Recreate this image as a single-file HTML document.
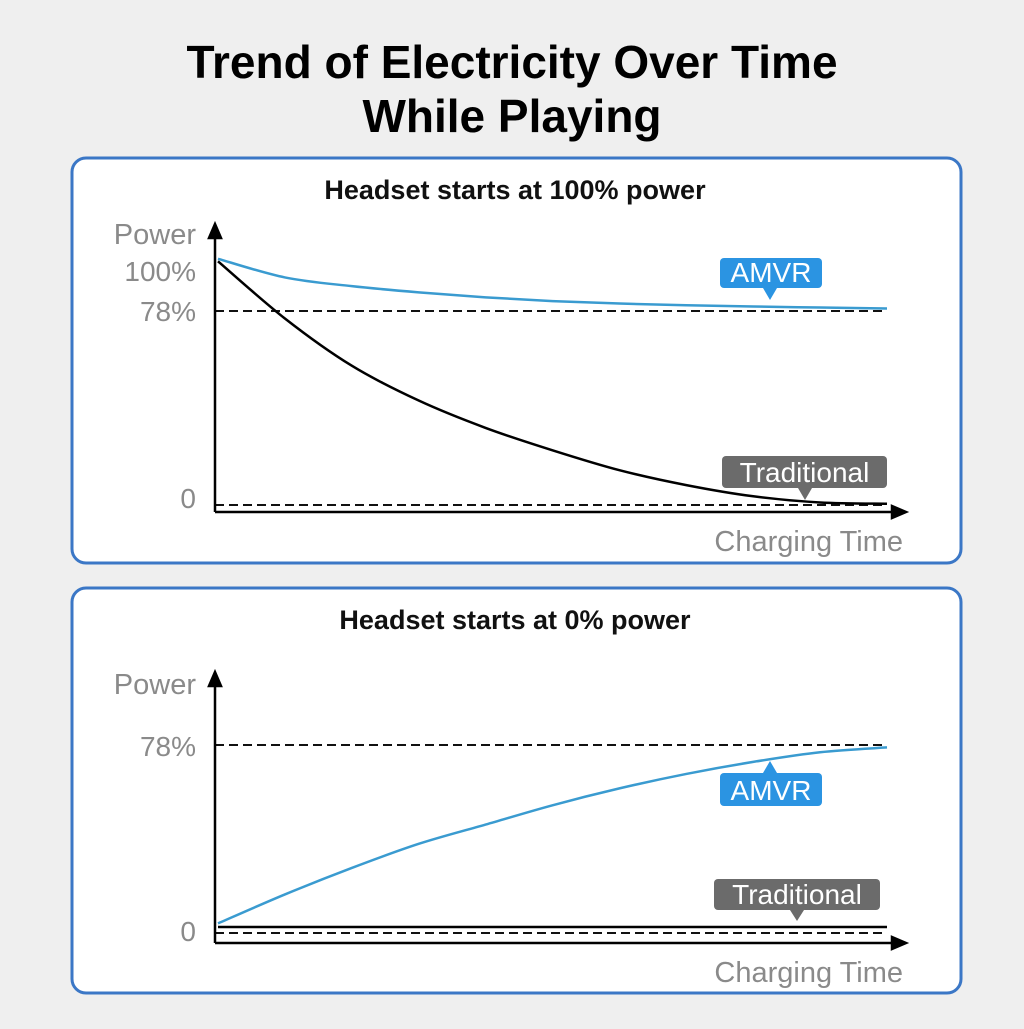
<!DOCTYPE html>
<html><head><meta charset="utf-8"><style>
body{margin:0;background:#efefef;width:1024px;height:1024px;overflow:hidden;font-family:"Liberation Sans",sans-serif}
</style></head><body>
<svg width="1024" height="1024">
<text x="512" y="78" text-anchor="middle" font-size="46" font-weight="bold" fill="#000">Trend of Electricity Over Time</text>
<text x="512" y="132" text-anchor="middle" font-size="46" font-weight="bold" fill="#000">While Playing</text>
<rect x="72" y="158" width="889" height="405" rx="14" fill="#fff" stroke="#3b77c6" stroke-width="3"/>
<rect x="72" y="588" width="889" height="405" rx="14" fill="#fff" stroke="#3b77c6" stroke-width="3"/>
<g id="g1"></g>
<g id="g2"></g>
</svg>
<script>
const times=[0,1,2,3,4,5,6,7,8,9,10];
const amvr1=[99,91.5,88,85.5,83.5,82,81,80.3,79.8,79.4,79];
const trad1=[98,75,56,42,31,22,14,8,3.5,1,0.5];
const amvr2=[4,16,27,37,45,53,60,66,71,75,77];
const trad2=[2.5,2.5,2.5,2.5,2.5,2.5,2.5,2.5,2.5,2.5,2.5];
const NS="http://www.w3.org/2000/svg";
function mk(p,t,a){const e=document.createElementNS(NS,t);for(const k in a)e.setAttribute(k,a[k]);p.appendChild(e);return e;}
function path(xs,ys,X,Y){let pts=xs.map((t,i)=>[X(t),Y(ys[i])]);let d="M"+pts[0];for(let i=1;i<pts.length;i++){const p0=pts[i-2]||pts[i-1],p1=pts[i-1],p2=pts[i],p3=pts[i+1]||p2;d+=" C"+(p1[0]+(p2[0]-p0[0])/6)+","+(p1[1]+(p2[1]-p0[1])/6)+" "+(p2[0]-(p3[0]-p1[0])/6)+","+(p2[1]-(p3[1]-p1[1])/6)+" "+p2;}return d;}
function chart(g,o){
 const X=t=>218+t*66.9, Y=v=>o.y0-v*o.k;
 let e;
 e=mk(g,"text",{x:515,y:o.top+41,"text-anchor":"middle","font-size":27,"font-weight":"bold",fill:"#111"});e.textContent=o.sub;
 
 
 e=mk(g,"text",{x:196,y:o.powerY,"text-anchor":"end","font-size":29,fill:"#8a8a8a"});e.textContent="Power";
 
 
 e=mk(g,"text",{x:903,y:o.ax+39,"text-anchor":"end","font-size":29,fill:"#8a8a8a"});e.textContent="Charging Time";
 
 
 o.ticks.forEach((v,i)=>{e=mk(g,"text",{x:196,y:o.tickY[i],"text-anchor":"end","font-size":28,fill:"#8a8a8a"});e.textContent=v===0?"0":v+"%";
  
  });
 o.dash.forEach(v=>{e=mk(g,"line",{x1:215,x2:887,y1:Y(v),y2:Y(v),stroke:"#111","stroke-width":2,"stroke-dasharray":"9,5"});
  
  });
 e=mk(g,"path",{d:`M215,${o.ax} V${o.ytop+10} M209,${o.ytop+14} L215,${o.ytop} L221,${o.ytop+14}Z M215,${o.ax} H897 M892,${o.ax-6} L906,${o.ax} L892,${o.ax+6}Z`,stroke:"#000","stroke-width":2.5,fill:"#000"});
 
 
 e=mk(g,"path",{d:path(times,o.trad,X,Y),fill:"none",stroke:"#000","stroke-width":2.5});
 
 
 e=mk(g,"path",{d:path(times,o.amvr,X,Y),fill:"none",stroke:"#3a9bd0","stroke-width":2.5});
 
 
 o.labels.forEach(L=>{
  e=mk(g,"rect",{x:L.x,y:L.y,width:L.w,height:L.h,rx:4,fill:L.c});
  
  
  e=mk(g,"path",{d:`M${L.px-7},${L.dir>0?L.y+L.h:L.y} L${L.px},${L.tip} L${L.px+7},${L.dir>0?L.y+L.h:L.y}Z`,fill:L.c});
  
  
  e=mk(g,"text",{x:L.x+L.w/2,y:L.y+L.h-6,"text-anchor":"middle","font-size":28,fill:"#fff"});e.textContent=L.t;
  
  
 });
}
chart(document.getElementById('g1'),{top:158,y0:505,k:2.487,ax:512,ytop:224,powerY:244,tickY:[281,321,508],sub:"Headset starts at 100% power",ticks:[100,78,0],dash:[78,0],amvr:amvr1,trad:trad1,
 labels:[{x:720,y:258,w:102,h:30,px:770,tip:300,dir:1,c:"#2b94e2",t:"AMVR"},{x:722,y:456,w:165,h:32,px:805,tip:500,dir:1,c:"#6b6b6b",t:"Traditional"}]});
chart(document.getElementById('g2'),{top:588,y0:933,k:2.41,ax:943,ytop:672,powerY:694,tickY:[756,941],sub:"Headset starts at 0% power",ticks:[78,0],dash:[78,0],amvr:amvr2,trad:trad2,
 labels:[{x:720,y:773,w:102,h:33,px:770,tip:761,dir:-1,c:"#2b94e2",t:"AMVR"},{x:714,y:879,w:166,h:31,px:797,tip:921,dir:1,c:"#6b6b6b",t:"Traditional"}]});
</script>
</body></html>
